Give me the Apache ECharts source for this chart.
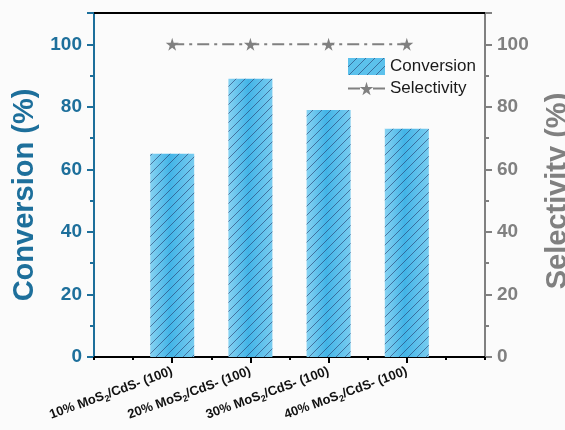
<!DOCTYPE html>
<html><head><meta charset="utf-8">
<script src="https://cdn.jsdelivr.net/npm/echarts@6/dist/echarts.min.js"></script>
<style>html,body{margin:0;padding:0;background:#fbfbfb}#c{width:565px;height:430px}</style>
</head><body><div id="c"></div>
<script>
const categories = ['', '10% MoS2/CdS- (100)', '20% MoS2/CdS- (100)', '30% MoS2/CdS- (100)', '40% MoS2/CdS- (100)', ''];
const conversion = ['-', 65, 89, 79, 73, '-'];
const selectivity = ['-', 100, 100, 100, 100, '-'];
const yTicks = [0, 20, 40, 60, 80, 100];

const blue = '#1d6f9b', gray = '#808080';
function hatch(bg) {
  const n = 9;
  const c = document.createElement('canvas');
  c.width = n; c.height = n;
  const g = c.getContext('2d');
  if (bg) { g.fillStyle = bg; g.fillRect(0, 0, n, n); }
  g.strokeStyle = 'rgba(35,55,105,0.75)'; g.lineWidth = 0.8;
  g.beginPath();
  g.moveTo(0, n); g.lineTo(n, 0);
  g.moveTo(-1, 1); g.lineTo(1, -1);
  g.moveTo(n - 1, n + 1); g.lineTo(n + 1, n - 1);
  g.stroke();
  return c;
}
const patOverlay = { image: hatch(null), repeat: 'repeat' };
const patLegend = { image: hatch('#5cc1ec'), repeat: 'repeat' };
const grad = { type: 'linear', x: 0, y: 0, x2: 1, y2: 0, colorStops: [
  { offset: 0, color: '#86d2f2' }, { offset: 0.45, color: '#42b4e7' }, { offset: 1, color: '#78ccf0' }] };
const star = 'path://M50,0 L61,35 L98,35 L68,57 L79,91 L50,70 L21,91 L32,57 L2,35 L39,35 Z';

const chart = echarts.init(document.getElementById('c'));
chart.setOption({
  backgroundColor: '#fbfbfb',
  animation: false,
  grid: { left: 94, right: 80, top: 13, bottom: 73, containLabel: false, outerBoundsMode: 'none' },
  legend: {
    orient: 'vertical', left: 342, top: 53, itemGap: 5,
    itemWidth: 37, itemHeight: 17,
    textStyle: { fontSize: 17, color: '#1a1a1a', fontFamily: 'Liberation Sans, Arial' },
    data: [{ name: 'Conversion', icon: 'rect', itemStyle: { color: patLegend } }, { name: 'Selectivity' }]
  },
  xAxis: [{
    type: 'category', data: categories, boundaryGap: false,
    axisLine: { lineStyle: { color: '#000', width: 2 } },
    axisTick: { show: true, inside: false, length: 6, lineStyle: { color: '#000', width: 2 },
      interval: function (i) { return i > 0 && i < categories.length - 1; } },
    axisLabel: {
      rotate: 20, margin: 14, interval: 0,
      formatter: function (v) { return v ? '{b|' + v.replace('MoS2', 'MoS}{s|2}{b|') + '}' : ''; },
      rich: {
        b: { fontSize: 13, fontWeight: 'bold', color: '#111', fontFamily: 'Liberation Sans, Arial' },
        s: { fontSize: 9, fontWeight: 'bold', color: '#111', fontFamily: 'Liberation Sans, Arial', padding: [8, 0, 0, 0] }
      }
    },
    splitLine: { show: false }
  }, {
    type: 'value', min: 0, max: 5, interval: 0.5, position: 'bottom',
    axisLine: { show: false }, axisLabel: { show: false }, splitLine: { show: false },
    axisTick: { show: true, length: 3, lineStyle: { color: '#000', width: 2 } }
  }, {
    type: 'category', position: 'top', data: categories,
    axisLine: { lineStyle: { color: '#000', width: 2 } },
    axisTick: { show: false }, axisLabel: { show: false }, splitLine: { show: false }
  }],
  yAxis: [{
    type: 'value', min: 0, max: 110, interval: 20, position: 'left',
    name: 'Conversion (%)', nameLocation: 'middle', nameGap: 54, nameRotate: 90,
    nameTextStyle: { fontSize: 29, fontWeight: 'bold', color: blue, fontFamily: 'Liberation Sans, Arial', padding: [0, 20, 0, 0] },
    axisLine: { show: true, lineStyle: { color: blue, width: 2 } },
    axisTick: { show: true, length: 7, lineStyle: { color: blue, width: 2 } },
    minorTick: { show: true, splitNumber: 2, length: 4, lineStyle: { color: blue, width: 2 } },
    axisLabel: { fontSize: 19, fontWeight: 'bold', color: blue, margin: 12, fontFamily: 'Liberation Sans, Arial',
      formatter: function (v) { return yTicks.indexOf(v) >= 0 ? String(v) : ''; } },
    splitLine: { show: false }, minorSplitLine: { show: false }
  }, {
    type: 'value', min: 0, max: 110, interval: 20, position: 'right',
    name: 'Selectivity (%)', nameLocation: 'middle', nameGap: 58, nameRotate: 90,
    nameTextStyle: { fontSize: 29, fontWeight: 'bold', color: gray, fontFamily: 'Liberation Sans, Arial', padding: [0, 12, 0, 0] },
    axisLine: { show: true, lineStyle: { color: gray, width: 2 } },
    axisTick: { show: true, length: 7, lineStyle: { color: gray, width: 2 } },
    minorTick: { show: true, splitNumber: 2, length: 4, lineStyle: { color: gray, width: 2 } },
    axisLabel: { fontSize: 19, fontWeight: 'bold', color: gray, margin: 12, fontFamily: 'Liberation Sans, Arial',
      formatter: function (v) { return yTicks.indexOf(v) >= 0 ? String(v) : ''; } },
    splitLine: { show: false }, minorSplitLine: { show: false }
  }],
  series: [{
    name: 'Conversion', type: 'bar', xAxisIndex: 0, yAxisIndex: 0,
    data: conversion, barWidth: 44,
    itemStyle: { color: grad }
  }, {
    name: 'ConversionHatch', type: 'bar', xAxisIndex: 0, yAxisIndex: 0,
    data: conversion, barWidth: 44, barGap: '-100%',
    itemStyle: { color: patOverlay }
  }, {
    name: 'Selectivity', type: 'line', xAxisIndex: 0, yAxisIndex: 1,
    data: selectivity, symbol: star, symbolSize: 13,
    lineStyle: { color: gray, width: 2, type: [12, 5, 3, 5] },
    itemStyle: { color: gray }
  }]
});
</script></body></html>
